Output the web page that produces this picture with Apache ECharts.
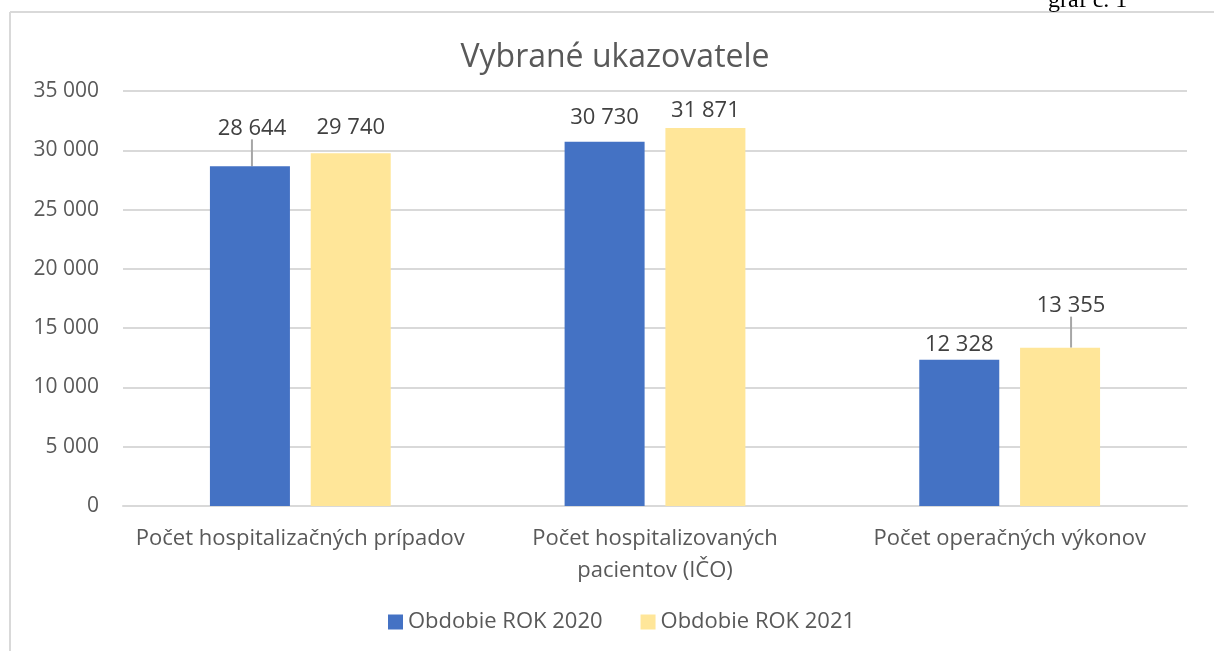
<!DOCTYPE html>
<html>
<head>
<meta charset="utf-8">
<title>Vybrané ukazovatele</title>
<script src="https://cdn.jsdelivr.net/npm/echarts@6/dist/echarts.min.js"></script>
<style>
  html, body { margin: 0; padding: 0; background: #fff; }
  #chart { width: 1214px; height: 651px; }
</style>
</head>
<body>
<div id="chart"></div>
<script>
// data
const categories = [
  'Počet hospitalizačných prípadov',
  'Počet hospitalizovaných\npacientov (IČO)',
  'Počet operačných výkonov'
]
const rok2020 = [28644, 30730, 12328]
const rok2021 = [29740, 31871, 13355]
const yTicks = [0, 5000, 10000, 15000, 20000, 25000, 30000, 35000]

// label shifts (Excel moved some labels up, two of them with a leader line)
const labelShift = [
  [[2, -23], [0, -9], [0, 0]],
  [[0, -11], [0, -2], [11, -27]]
]
const withLeader = [[true, false, false], [false, false, true]]

const FONT = 'Open Sans'
const fmt = v => String(v).replace(/\B(?=(\d{3})+(?!\d))/g, ' ')

const chart = echarts.init(document.getElementById('chart'))

const barSeries = (name, values, color, si) => ({
  name,
  type: 'bar',
  data: values.map((v, i) => ({value: v, labelLine: {show: withLeader[si][i]}})),
  barWidth: 80,
  barGap: '26%',
  itemStyle: {color},
  label: {
    show: true,
    position: 'top',
    distance: 4,
    fontFamily: FONT,
    fontSize: 22,
    color: '#404040',
    formatter: p => fmt(p.value)
  },
  labelLine: {show: true, lineStyle: {color: '#a6a6a6', width: 2}},
  labelLayout: p => ({dx: labelShift[si][p.dataIndex][0], dy: labelShift[si][p.dataIndex][1]})
})

chart.setOption({
  animation: false,
  textStyle: {fontFamily: FONT},
  title: {
    text: 'Vybrané ukazovatele',
    left: 610,
    textAlign: 'center',
    top: 37,
    textStyle: {fontSize: 32, fontWeight: 'normal', color: '#595959', fontFamily: FONT}
  },
  legend: {
    bottom: 13,
    left: 383,
    itemWidth: 15,
    itemHeight: 15,
    itemGap: 38,
    icon: 'rect',
    textStyle: {fontSize: 22, color: '#595959', fontFamily: FONT}
  },
  grid: {left: 123, right: 27, top: 91, bottom: 145},
  xAxis: {
    type: 'category',
    data: categories,
    axisTick: {show: false},
    axisLine: {lineStyle: {color: '#d9d9d9', width: 2}},
    axisLabel: {fontSize: 22, color: '#595959', fontFamily: FONT, margin: 17, lineHeight: 32, interval: 0}
  },
  yAxis: {
    type: 'value',
    min: yTicks[0],
    max: yTicks[yTicks.length - 1],
    interval: yTicks[1] - yTicks[0],
    axisLine: {show: false},
    axisTick: {show: false},
    splitLine: {lineStyle: {color: '#d9d9d9', width: 2}},
    axisLabel: {fontSize: 21, color: '#595959', fontFamily: FONT, margin: 24, formatter: v => fmt(v)}
  },
  series: [
    barSeries('Obdobie ROK 2020', rok2020, '#4472c4', 0),
    barSeries('Obdobie ROK 2021', rok2021, '#ffe699', 1)
  ],
  graphic: [
    {type: 'line', shape: {x1: 10, y1: 12, x2: 1214, y2: 12}, style: {stroke: '#d9d9d9', lineWidth: 2}},
    {type: 'line', shape: {x1: 10, y1: 12, x2: 10, y2: 651}, style: {stroke: '#d9d9d9', lineWidth: 2}},
    {type: 'text', x: 1048, y: 13, style: {text: 'graf č. 1', font: '24px "Liberation Serif"', fill: '#000', verticalAlign: 'bottom'}}
  ]
})
</script>
</body>
</html>
